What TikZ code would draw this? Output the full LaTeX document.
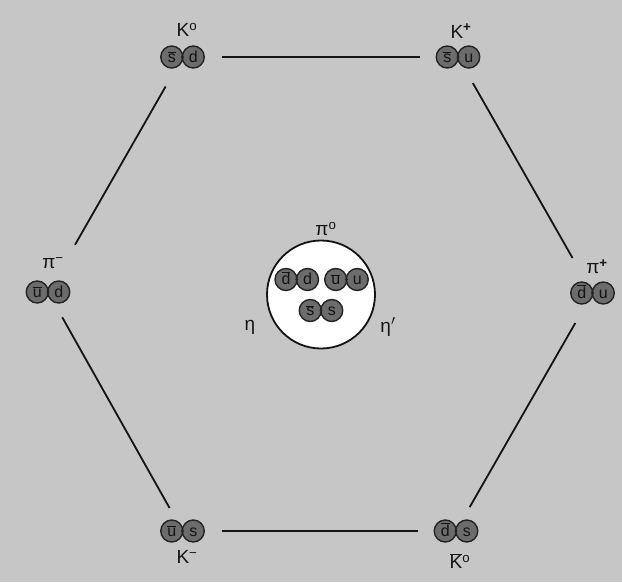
\documentclass[tikz,border=0pt]{standalone}
\usepackage{fontspec}
\setmainfont{Liberation Sans}
\definecolor{bg}{RGB}{198,198,198}
\definecolor{qfill}{RGB}{108,108,108}
\definecolor{qline}{RGB}{35,35,35}
\definecolor{ink}{RGB}{20,20,20}
\newcommand\qbar[1]{\ensuremath{\overline{\mbox{#1}}}}
\newcommand\qpair[5]{%
  \coordinate (#1) at (#2,#3);
  \node[quark] (#1L) at ([xshift=-10.75pt]#1) {#4};
  \node[quark] (#1R) at ([xshift=10.75pt]#1) {#5};
  \fill[qline] (#1) circle (1.6pt);
}
\begin{document}
\begin{tikzpicture}[x=1pt,y=-1pt,
  quark/.style={circle,draw=qline,line width=1.4pt,fill=qfill,minimum size=22pt,inner sep=0pt,
    font=\fontsize{16}{16}\selectfont,text=ink,text height=10.5pt,text depth=0pt},
  lbl/.style={font=\fontsize{19}{19}\selectfont,text=ink,inner sep=0pt},
  edge/.style={draw=ink,line width=1.8pt}]
\fill[bg] (0,0) rectangle (622,582);
\useasboundingbox (0,0) rectangle (622,582);

% outer mesons
\qpair{K0}{182.5}{57}{\qbar{s}}{d}
\qpair{Kp}{458}{57}{\qbar{s}}{u}
\qpair{pim}{48}{292}{\qbar{u}}{d}
\qpair{pip}{592.5}{293}{\qbar{d}}{u}
\qpair{Km}{182.5}{531}{\qbar{u}}{s}
\qpair{Kb}{456}{531}{\qbar{d}}{s}

% labels
\node[lbl] (lK0) at (187,30) {K\textsuperscript{o}};
\node[lbl] (lKp) at (461,31) {K\textsuperscript{\textbf{+}}};
\node[lbl] (lpim) at (53,263) {π\textsuperscript{−}};
\node[lbl] (lpip) at (597,267) {π\textsuperscript{\textbf{+}}};
\node[lbl] (lKm) at (187,557) {K\textsuperscript{−}};
\node[lbl] (lKb) at (460,561) {\qbar{K}\textsuperscript{o}};

% hexagon edges
\draw[edge, shorten <=39.5pt, shorten >=38pt] (K0) -- (Kp);
\draw[edge, shorten <=34pt, shorten >=54.4pt] (K0) -- (pim);
\draw[edge, shorten <=29pt, shorten >=26.4pt] (pim) -- (Km);
\draw[edge, shorten <=30pt, shorten >=40.3pt] (Kp) -- (pip);
\draw[edge, shorten <=34.5pt, shorten >=27.6pt] (pip) -- (Kb);
\draw[edge, shorten <=39.5pt, shorten >=38pt] (Km) -- (Kb);

% centre
\node[circle, draw=ink, line width=1.8pt, fill=white, minimum size=108pt, inner sep=0pt] (mix) at (321,294.5) {};
\qpair{dd}{296.75}{279.5}{\qbar{d}}{d}
\qpair{uu}{346.5}{279.5}{\qbar{u}}{u}
\qpair{ss}{321}{310.5}{\qbar{s}}{s}
\node[lbl] (lpi0) at (326,229) {π\textsuperscript{o}};
\node[lbl] (leta) at (250,327) {η};
\node[lbl] (letap) at (388,327) {η$'$};
\end{tikzpicture}
\end{document}
